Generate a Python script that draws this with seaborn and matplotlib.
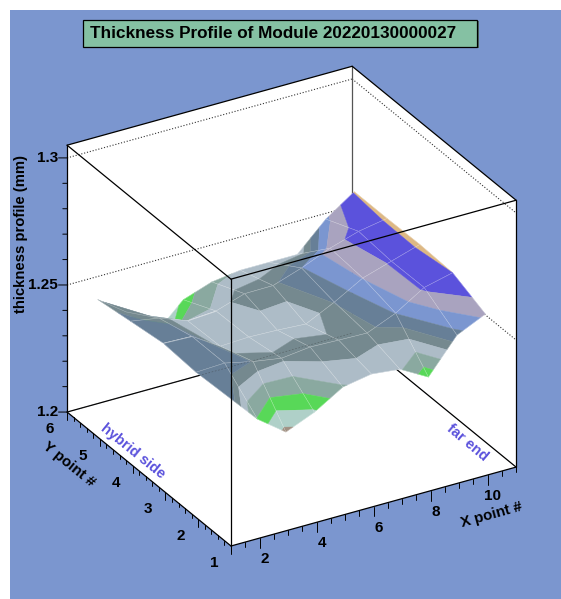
import numpy as np
import seaborn as sns
import matplotlib.pyplot as plt
from matplotlib.patches import Rectangle
from mpl_toolkits.mplot3d import proj3d
from mpl_toolkits.mplot3d.art3d import Poly3DCollection

# measured points, bin centres of the module map
x_points = [1.5, 2.5, 3.5, 4.5, 5.5, 6.5, 7.5, 8.5, 9.5, 10.5]
y_points = [1.5, 2.5, 3.5, 4.5, 5.5]

# thickness (mm), one list per y point
thickness_y1 = [1.2517, 1.2400, 1.2318, 1.2365, 1.2433, 1.2453, 1.2441, 1.2379, 1.2513, 1.2565]
thickness_y2 = [1.2510, 1.2515, 1.2490, 1.2472, 1.2485, 1.2481, 1.2478, 1.2525, 1.2595, 1.2622]
thickness_y3 = [1.2519, 1.2515, 1.2445, 1.2450, 1.2446, 1.2439, 1.2494, 1.2558, 1.2593, 1.2628]
thickness_y4 = [1.2500, 1.2481, 1.2440, 1.2447, 1.2484, 1.2485, 1.2523, 1.2570, 1.2605, 1.2625]
thickness_y5 = [1.2480, 1.2400, 1.2280, 1.2386, 1.2425, 1.2440, 1.2440, 1.2440, 1.2548, 1.2625]

# colour bands of the surface
band_levels = [1.2330, 1.2370, 1.2402, 1.2436, 1.2466, 1.2492, 1.2524, 1.2556, 1.2588, 1.2622]
band_colors = ['#a09082', '#afd0c8', '#58d858', '#8aa9a0', '#adbcc7', '#75898f',
               '#677f97', '#7b96d0', '#a9a3bf', '#5b52dc', '#ddb884']

x_major = [2, 4, 6, 8, 10]
y_major = [1, 2, 3, 4, 5, 6]
z_major = [1.2, 1.25, 1.3]
z_labels = ['1.2', '1.25', '1.3']

W, H = 561, 599
BG = '#7b96cf'

sns.set_theme(style='white')
plt.rcParams['font.family'] = ['Liberation Sans', 'DejaVu Sans']
plt.rcParams['font.weight'] = 'bold'

fig = plt.figure(figsize=(W / 100, H / 100), dpi=100, facecolor='white')
fig.add_artist(Rectangle((10 / W, 0), 1, 1 - 10 / H, transform=fig.transFigure,
                         facecolor=BG, edgecolor='none', zorder=-1))

ax = fig.add_axes([0, 0, 1, W / H], projection='3d', computed_zorder=False)
ax.set_proj_type('ortho')
ax.view_init(elev=28.4, azim=239.8)
ax.set_box_aspect((330, 326, 303.5))
ax.set_xlim(1, 11, view_margin=0)
ax.set_ylim(1, 6, view_margin=0)
ax.set_zlim(1.2, 1.305, view_margin=0)
ax.set_facecolor('none')
ax.grid(False)
ax.set_xticks([])
ax.set_yticks([])
ax.set_zticks([])
for axis in (ax.xaxis, ax.yaxis, ax.zaxis):
    axis.set_pane_color('white')
    axis.pane.set_edgecolor('none')
    axis.line.set_color('none')


def to_pixel(x, y, z):
    px, py, _ = proj3d.proj_transform(x, y, z, ax.get_proj())
    return ax.transData.transform((px, py))


# scale and move the axes so the box lands where it should
fig.canvas.draw()
span = to_pixel(11, 1, 1.2)[0] - to_pixel(1, 6, 1.2)[0]
size = W * 449 / span
ax.set_position([0, 0, size / W, size / H])
fig.canvas.draw()
front = to_pixel(1, 1, 1.2)
ax.set_position([(231 - front[0]) / W, ((H - 546) - front[1]) / H, size / W, size / H])
fig.canvas.draw()


def clip_z(poly, level, keep_above):
    out = []
    for a, b in zip(poly, poly[1:] + poly[:1]):
        a_in = a[2] >= level if keep_above else a[2] <= level
        b_in = b[2] >= level if keep_above else b[2] <= level
        if a_in:
            out.append(a)
        if a_in != b_in:
            t = (level - a[2]) / (b[2] - a[2])
            out.append(tuple(a[k] + t * (b[k] - a[k]) for k in range(3)))
    return out


def box_line(a, b, z=1, color='black', lw=0.9, ls='-', alpha=1):
    ax.plot(*zip(a, b), color=color, lw=lw, ls=ls, alpha=alpha, zorder=z, clip_on=False)


# back of the box
xa, xb, ya, yb, za, zb = 1, 11, 1, 6, 1.2, 1.305
for level in z_major[1:]:
    box_line((xa, yb, level), (xb, yb, level), color='#333333', lw=0.8, ls=':')
    box_line((xb, yb, level), (xb, ya, level), color='#333333', lw=0.8, ls=':')
box_line((xa, yb, za), (xb, yb, za))
box_line((xb, yb, za), (xb, ya, za))
box_line((xb, yb, za), (xb, yb, zb), color='#555555')
box_line((xa, yb, zb), (xb, yb, zb))
box_line((xb, yb, zb), (xb, ya, zb))
box_line((xa, yb, za), (xa, yb, zb))
box_line((xb, ya, za), (xb, ya, zb))

# surface, painted cell by cell from the back
thickness = np.array([thickness_y1, thickness_y2, thickness_y3, thickness_y4, thickness_y5])
palette = sns.color_palette(band_colors)
edges = [-np.inf] + band_levels + [np.inf]
order = 2.0
for j in reversed(range(len(y_points) - 1)):
    for i in reversed(range(len(x_points) - 1)):
        corners = [(x_points[i], y_points[j], thickness[j, i]),
                   (x_points[i + 1], y_points[j], thickness[j, i + 1]),
                   (x_points[i + 1], y_points[j + 1], thickness[j + 1, i + 1]),
                   (x_points[i], y_points[j + 1], thickness[j + 1, i])]
        polys, colors = [], []
        for k, color in enumerate(palette):
            part = corners
            if np.isfinite(edges[k]):
                part = clip_z(part, edges[k], True)
            if part and np.isfinite(edges[k + 1]):
                part = clip_z(part, edges[k + 1], False)
            if len(part) >= 3:
                polys.append(part)
                colors.append(color)
        ax.add_collection3d(Poly3DCollection(polys, facecolors=colors, edgecolors=colors,
                                             linewidths=0.3, zorder=order), autolim=False)
        loop = corners + corners[:1]
        ax.plot(*zip(*loop), color='white', lw=0.35, alpha=0.4, zorder=order + 0.5)
        order += 1

# the floor edge shows faintly through the surface
box_line((xa, yb, za), (xb, yb, za), z=order, color='#333333', lw=0.4, ls=(0, (3, 3)), alpha=0.5)

# front of the box
top = order + 1
box_line((xa, ya, za), (xa, ya, zb), z=top)
box_line((xa, ya, zb), (xb, ya, zb), z=top)
box_line((xa, ya, zb), (xa, yb, zb), z=top)
box_line((xa, ya, za), (xb, ya, za), z=top)
box_line((xa, ya, za), (xa, yb, za), z=top)

# ticks
for v in np.arange(1, 11.01, 0.5):
    size_t = 0.0039 if v in x_major else 0.002
    box_line((v, ya, za), (v, ya, za - size_t), z=top, lw=0.7)
for v in np.arange(1, 6.01, 0.2):
    size_t = 0.0030 if min(abs(v - m) for m in y_major) < 1e-6 else 0.0016
    box_line((xa, v, za), (xa, v, za - size_t), z=top, lw=0.7)
for v in np.arange(1.2, 1.3001, 0.01):
    big = min(abs(v - m) for m in z_major) < 1e-6
    step = 0.3 if big else 0.15
    box_line((xa, yb, v), (xa - step, yb, v + step * 0.0031), z=top, lw=0.7)


def tick_label(x, y, z, text, dx, dy, ha='center'):
    ax.annotate(text, ax.transData.inverted().transform(to_pixel(x, y, z)), xytext=(dx, dy),
                textcoords='offset pixels', ha=ha, va='center', fontsize=11, color='black',
                annotation_clip=False, zorder=top + 1)


for v in x_major:
    tick_label(v, ya, za, str(v), 5, -21)
for v in y_major:
    tick_label(xa, v, za, str(v), -17, -17)
for v, text in zip(z_major, z_labels):
    tick_label(xa, yb, v, text, -9, 0, ha='right')


def pixel_text(x, y, text, **kw):
    fig.text(x / W, 1 - y / H, text, ha='center', va='center', rotation_mode='anchor', **kw)


pixel_text(492, 515, 'X point #', rotation=15.5, fontsize=10.8, color='black')
pixel_text(69, 464, 'Y point #', rotation=-39, fontsize=10.8, color='black')
pixel_text(21, 234, 'thickness profile (mm)', rotation=90, fontsize=10.7, color='black')
pixel_text(133, 451, 'hybrid side', rotation=-39, fontsize=10.5, color=band_colors[9])
pixel_text(467, 443, 'far end', rotation=-40, fontsize=10.5, color=band_colors[9])

# title box
fig.add_artist(Rectangle((85 / W, 1 - 48 / H), 394 / W, 27 / H, transform=fig.transFigure,
                         facecolor='#4d6b63', edgecolor='none', zorder=5))
fig.add_artist(Rectangle((83 / W, 1 - 47 / H), 394 / W, 27 / H, transform=fig.transFigure,
                         facecolor='#85c1a3', edgecolor='black', lw=0.9, zorder=6))
fig.text(90 / W, 1 - 33 / H, 'Thickness Profile of Module 20220130000027', ha='left',
         va='center', fontsize=12.35, color='black', zorder=7)

fig.savefig('out.png', dpi=100)
